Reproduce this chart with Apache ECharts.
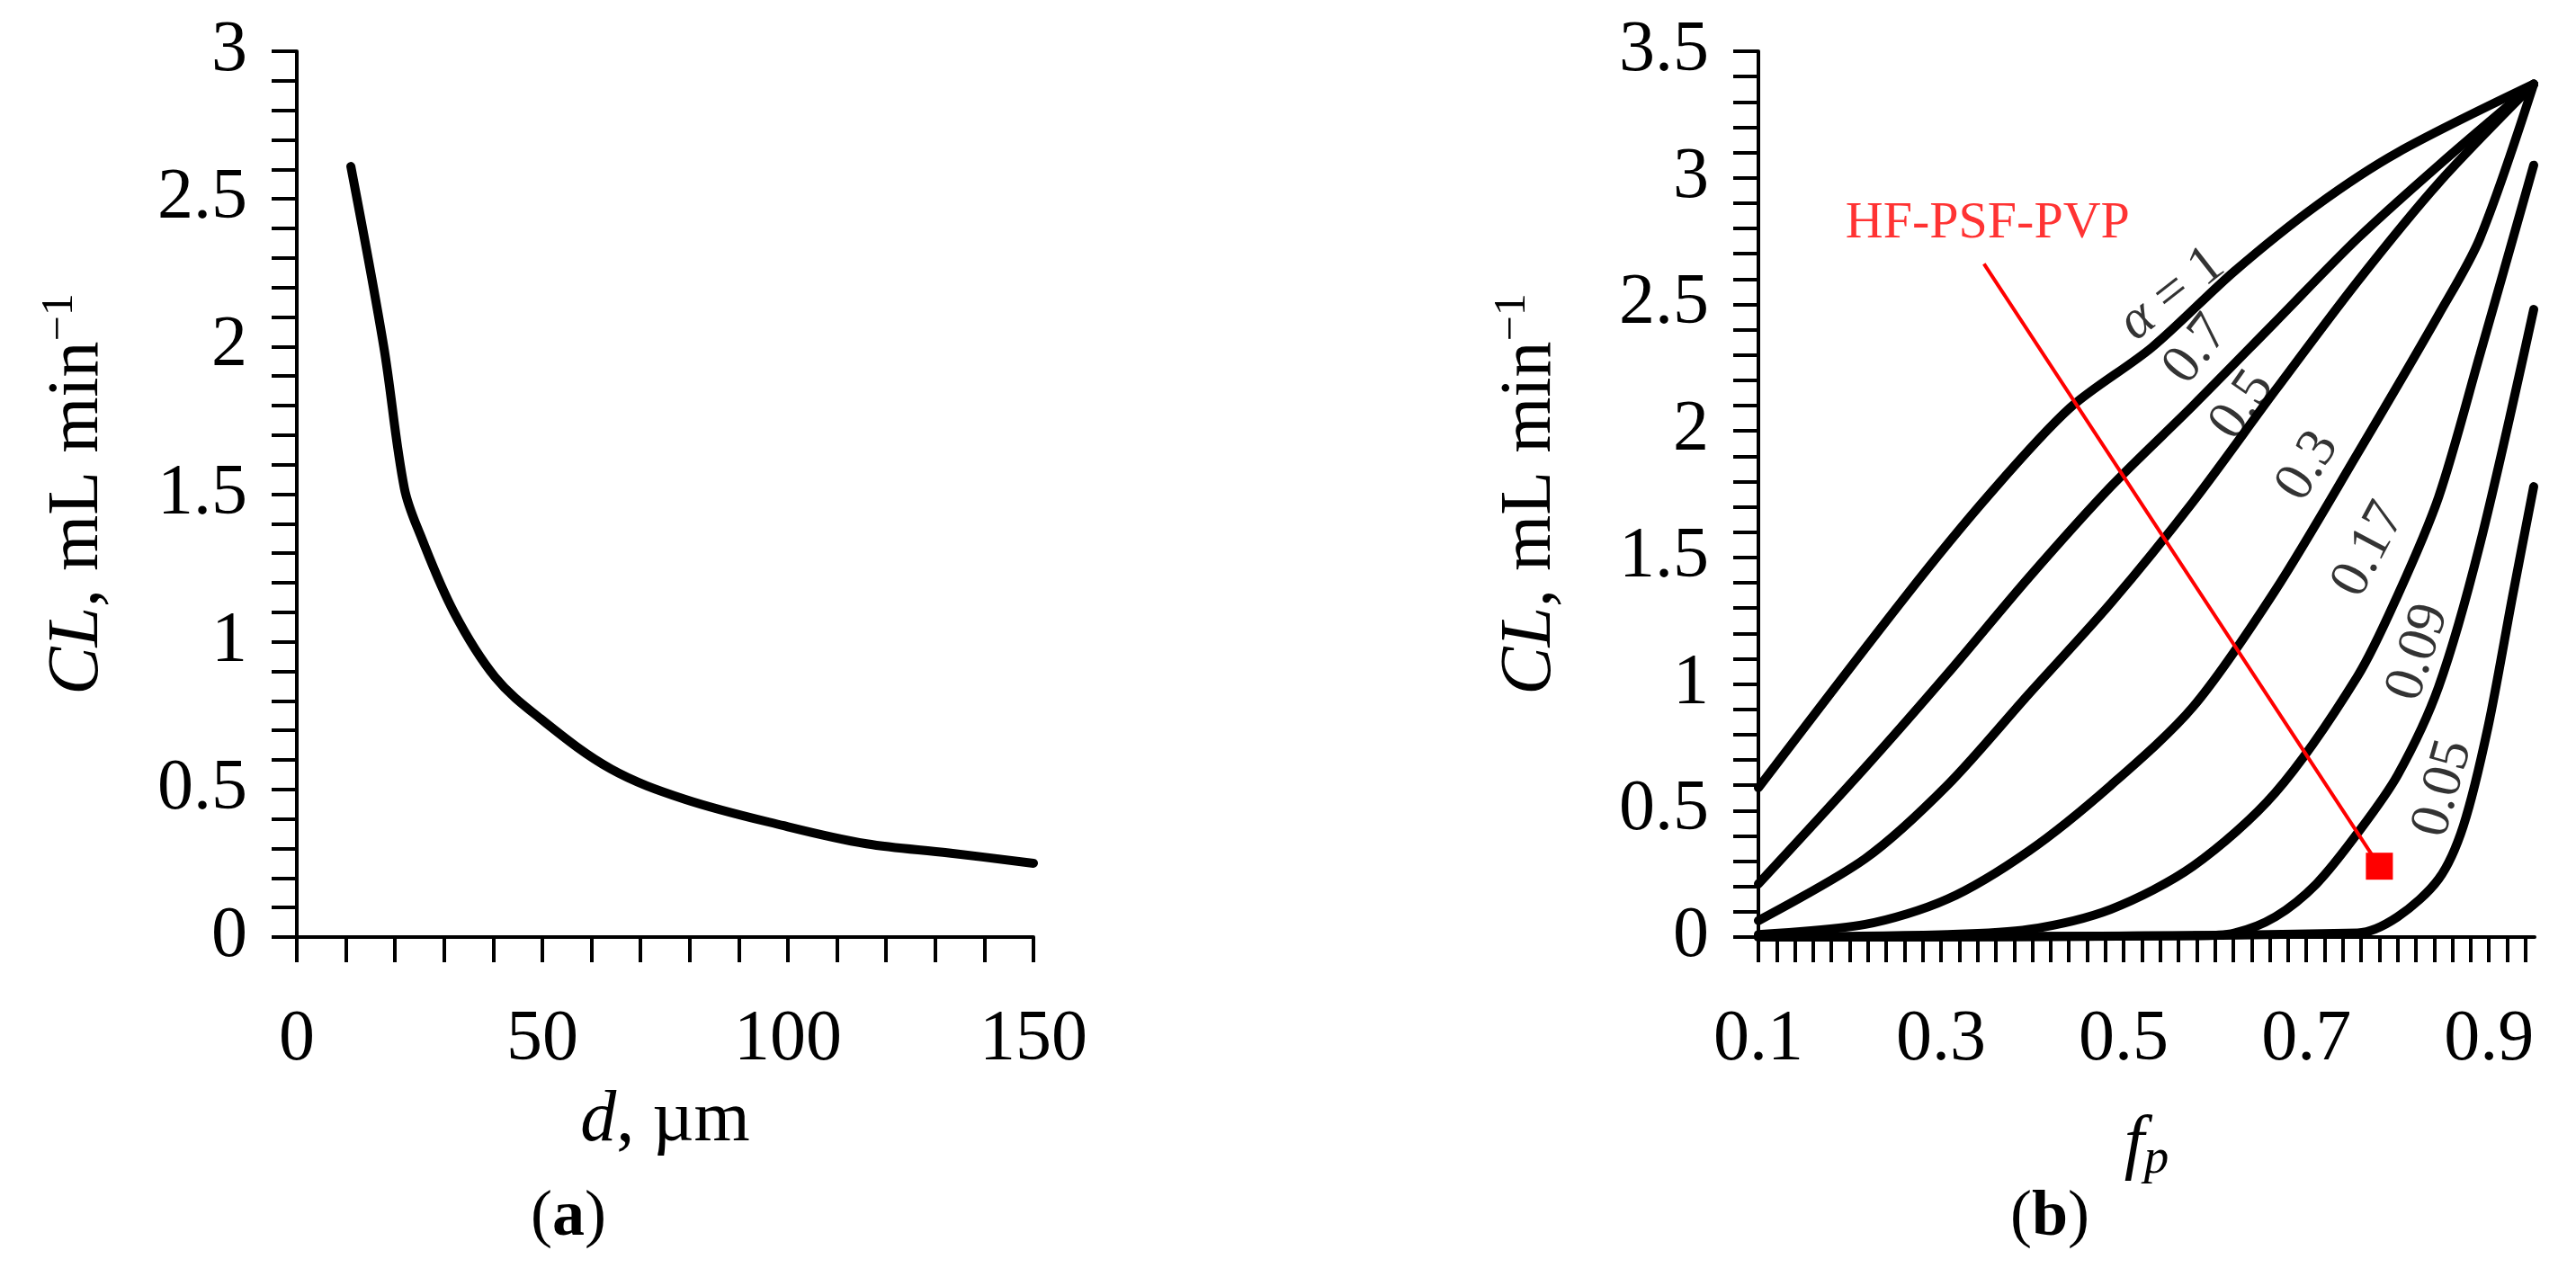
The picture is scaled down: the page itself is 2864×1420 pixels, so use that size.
<!DOCTYPE html>
<html><head><meta charset="utf-8">
<script src="https://cdn.jsdelivr.net/npm/echarts@6/dist/echarts.min.js"></script>
<style>html,body{margin:0;padding:0;background:#fff}#c{width:2864px;height:1420px}</style>
</head><body><div id="c"></div>
<script>
// Panel (a): CL vs d
const dValues = [11, 17.7, 21.9, 25.2, 32, 40.4, 49.6, 63.9, 79, 99.2, 116, 132.8, 150];
const clA = [2.61, 2.0, 1.52, 1.36, 1.10, 0.88, 0.74, 0.57, 0.467, 0.377, 0.316, 0.285, 0.25];
// Panel (b): CL vs fp for alpha values, [fp, CL]
const alpha1 = [[0.1,0.59],[0.262,1.35],[0.352,1.745],[0.441,2.09],[0.531,2.33],[0.621,2.63],[0.711,2.89],[0.80,3.10],[0.949,3.37]];
const alpha07 = [[0.1,0.21],[0.217,0.67],[0.307,1.04],[0.396,1.42],[0.486,1.78],[0.576,2.10],[0.666,2.43],[0.756,2.76],[0.845,3.05],[0.949,3.37]];
const alpha05 = [[0.1,0.065],[0.217,0.31],[0.307,0.60],[0.396,0.96],[0.486,1.32],[0.576,1.72],[0.666,2.16],[0.756,2.59],[0.845,2.98],[0.949,3.37]];
const alpha03 = [[0.1,0.01],[0.217,0.05],[0.307,0.15],[0.396,0.34],[0.486,0.60],[0.576,0.91],[0.666,1.37],[0.756,1.91],[0.845,2.46],[0.890,2.76],[0.949,3.37]];
const alpha017 = [[0.1,0],[0.307,0.01],[0.396,0.03],[0.486,0.11],[0.576,0.28],[0.666,0.57],[0.756,1.03],[0.80,1.35],[0.845,1.74],[0.890,2.30],[0.949,3.05]];
const alpha009 = [[0.1,0],[0.576,0.005],[0.621,0.016],[0.666,0.08],[0.711,0.21],[0.756,0.41],[0.80,0.64],[0.845,0.99],[0.890,1.55],[0.949,2.48]];
const alpha005 = [[0.1,0],[0.756,0.016],[0.80,0.08],[0.845,0.23],[0.872,0.44],[0.899,0.83],[0.926,1.35],[0.949,1.78]];
const curveSets = [alpha1, alpha07, alpha05, alpha03, alpha017, alpha009, alpha005];
const curveLabels = ['{i|α} = 1', '0.7', '0.5', '0.3', '0.17', '0.09', '0.05'];
const curveLabelPos = [[0.553,2.54],[0.58,2.32],[0.63,2.10],[0.702,1.86],[0.769,1.53],[0.823,1.125],[0.85,0.587]];
const curveLabelRot = [38, 52, 55, 58, 62, 72, 74];
const redLine = [[0.347,2.66],[0.78,0.28]];
const redLabel = 'HF-PSF-PVP';
const redLabelPos = [0.351, 2.82];

const FONT = 'Liberation Serif';
const chart = echarts.init(document.getElementById('c'));
function yName(gap){ return {
  name: '{i|CL}{n|, mL min}{s|−1}',
  nameLocation: 'middle', nameGap: gap, nameRotate: 90,
  nameTextStyle: { rich: {
    i: {fontFamily: FONT, fontStyle: 'italic', fontSize: 80, color: '#000'},
    n: {fontFamily: FONT, fontSize: 80, color: '#000'},
    s: {fontFamily: FONT, fontSize: 50, color: '#000', verticalAlign: 'top', padding:[0,0,40,0]}
  }}
};}
function axisCommon(){
  return {
    axisLine: {show: true, lineStyle: {color: '#000', width: 4}},
    axisTick: {show: true, length: 28, lineStyle: {color: '#000', width: 4}},
    splitLine: {show: false},
    axisLabel: {color: '#000', fontFamily: FONT, fontSize: 80}
  };
}
const labelData = curveLabels.map((t,i)=>({value: curveLabelPos[i], label:{formatter:t, rotate: curveLabelRot[i]}}));
const option = {
  backgroundColor: '#fff',
  animation: false,
  grid: [
    {left: 330, top: 57, width: 819, height: 985},
    {left: 1955, top: 57, width: 863, height: 985}
  ],
  xAxis: [
    Object.assign(axisCommon(), {gridIndex: 0, type: 'value', min: 0, max: 150, interval: 10,
      name: '{i|d}{n|, µm}', nameLocation: 'middle', nameGap: 165,
      nameTextStyle: {rich: {i:{fontFamily:FONT,fontStyle:'italic',fontSize:80,color:'#000'}, n:{fontFamily:FONT,fontSize:80,color:'#000'}}},
      axisLabel: {color:'#000', fontFamily: FONT, fontSize: 80, margin: 75, formatter: v => (Math.round(v) % 50 === 0 ? String(Math.round(v)) : '')}}),
    Object.assign(axisCommon(), {gridIndex: 1, type: 'value', min: 0.1, max: 0.95, interval: 0.02,
      name: '{i|f}{s|p}', nameLocation: 'middle', nameGap: 190,
      nameTextStyle: {rich: {i:{fontFamily:FONT,fontStyle:'italic',fontSize:80,color:'#000'}, s:{fontFamily:FONT,fontStyle:'italic',fontSize:55,color:'#000',verticalAlign:'bottom',padding:[30,0,0,0]}}},
      axisLabel: {color:'#000', fontFamily: FONT, fontSize: 80, margin: 75, showMaxLabel: false,
        formatter: v => { const k = Math.round(v*100); return [10,30,50,70,90].includes(k) ? (k/100).toFixed(1) : ''; }}})
  ],
  yAxis: [
    Object.assign(axisCommon(), yName(198), {gridIndex: 0, type: 'value', min: 0, max: 3, interval: 0.1,
      axisLabel: {color:'#000', fontFamily: FONT, fontSize: 80, margin: 55, formatter: v => { const k = Math.round(v*10); return k % 5 === 0 ? String(k/10) : ''; }}}),
    Object.assign(axisCommon(), yName(208), {gridIndex: 1, type: 'value', min: 0, max: 3.5, interval: 0.1,
      axisLabel: {color:'#000', fontFamily: FONT, fontSize: 80, margin: 55, formatter: v => { const k = Math.round(v*10); return k % 5 === 0 ? String(k/10) : ''; }}})
  ],
  series: [
    {type: 'line', xAxisIndex: 0, yAxisIndex: 0, data: dValues.map((d,i)=>[d, clA[i]]), smooth: 0.35, showSymbol: false, lineStyle: {color: '#000', width: 10, cap: 'round'}}
  ].concat(curveSets.map(s => ({type: 'line', xAxisIndex: 1, yAxisIndex: 1, data: s, smooth: 0.3, showSymbol: false, lineStyle: {color: '#000', width: 10, cap: 'round'}, z: 2})))
  .concat([
    {type: 'line', xAxisIndex: 1, yAxisIndex: 1, data: [redLine[0], {value: redLine[1], symbol: 'rect', symbolSize: 30, itemStyle:{color:'#f00'}}], showSymbol: true, symbol: 'none', lineStyle: {color: '#f00', width: 4}, z: 5},
    {type: 'scatter', xAxisIndex: 1, yAxisIndex: 1, data: [redLabelPos], symbolSize: 0, z: 6,
      label: {show: true, position: 'inside', formatter: redLabel, color: '#f00', fontFamily: FONT, fontSize: 58}},
    {type: 'scatter', xAxisIndex: 1, yAxisIndex: 1, data: labelData, symbolSize: 0, z: 6,
      label: {show: true, position: 'inside', color: '#000', fontFamily: FONT, fontSize: 62,
        rich: {i: {fontFamily: FONT, fontStyle: 'italic', fontSize: 62, color: '#000'}}}}
  ]),
  graphic: [
    {type: 'text', left: 590, top: 1318, style: {text: '{n|(}{b|a}{n|)}', rich: {n:{font: '72px "Liberation Serif"', fill: '#000'}, b:{font: 'bold 72px "Liberation Serif"', fill: '#000'}}}},
    {type: 'text', left: 2235, top: 1318, style: {text: '{n|(}{b|b}{n|)}', rich: {n:{font: '72px "Liberation Serif"', fill: '#000'}, b:{font: 'bold 72px "Liberation Serif"', fill: '#000'}}}}
  ]
};
chart.setOption(option);
</script></body></html>
